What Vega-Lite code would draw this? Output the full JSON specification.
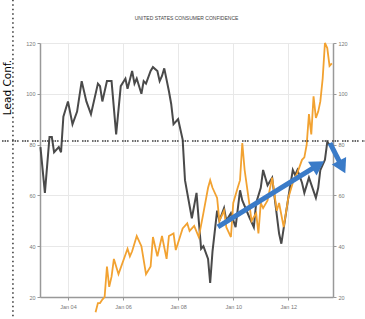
{
  "$schema": "https://vega.github.io/schema/vega-lite/v6.json",
  "width": 293,
  "height": 254,
  "autosize": "none",
  "padding": {"left": 40, "top": 43, "right": 32, "bottom": 22},
  "background": "white",
  "title": {"text": "UNITED STATES CONSUMER CONFIDENCE", "fontSize": 5, "font": "Liberation Sans", "fontWeight": "normal", "color": "#444", "anchor": "middle", "offset": -22},
  "config": {"view": {"stroke": null}, "font": "Liberation Sans"},
  "datasets": {
    "conf": [
      {"date": "2003-01-01", "value": 79}, {"date": "2003-03-01", "value": 61}, {"date": "2003-05-01", "value": 83}, {"date": "2003-06-01", "value": 83},
      {"date": "2003-07-01", "value": 77}, {"date": "2003-09-01", "value": 79}, {"date": "2003-10-01", "value": 77}, {"date": "2003-11-01", "value": 91},
      {"date": "2004-01-01", "value": 97}, {"date": "2004-03-01", "value": 88}, {"date": "2004-05-01", "value": 93}, {"date": "2004-07-01", "value": 105},
      {"date": "2004-09-01", "value": 97}, {"date": "2004-11-01", "value": 92}, {"date": "2005-02-01", "value": 104}, {"date": "2005-03-01", "value": 103},
      {"date": "2005-04-01", "value": 97}, {"date": "2005-06-01", "value": 105}, {"date": "2005-08-01", "value": 105}, {"date": "2005-10-01", "value": 84},
      {"date": "2005-12-01", "value": 103}, {"date": "2006-02-01", "value": 106}, {"date": "2006-03-01", "value": 102}, {"date": "2006-05-01", "value": 109},
      {"date": "2006-06-01", "value": 104}, {"date": "2006-07-01", "value": 106}, {"date": "2006-09-01", "value": 100}, {"date": "2006-10-01", "value": 105},
      {"date": "2006-11-01", "value": 104}, {"date": "2007-01-01", "value": 109}, {"date": "2007-02-01", "value": 110.5}, {"date": "2007-04-01", "value": 109},
      {"date": "2007-05-01", "value": 105}, {"date": "2007-06-01", "value": 107}, {"date": "2007-07-01", "value": 110}, {"date": "2007-09-01", "value": 101},
      {"date": "2007-10-01", "value": 96}, {"date": "2007-11-01", "value": 88}, {"date": "2008-01-01", "value": 90}, {"date": "2008-03-01", "value": 82},
      {"date": "2008-04-01", "value": 66}, {"date": "2008-05-01", "value": 61}, {"date": "2008-07-01", "value": 51}, {"date": "2008-09-01", "value": 61},
      {"date": "2008-10-01", "value": 50}, {"date": "2008-11-01", "value": 39}, {"date": "2008-12-01", "value": 40}, {"date": "2009-02-01", "value": 35},
      {"date": "2009-03-01", "value": 25.5}, {"date": "2009-04-01", "value": 38}, {"date": "2009-06-01", "value": 54}, {"date": "2009-07-01", "value": 50},
      {"date": "2009-09-01", "value": 55}, {"date": "2009-10-01", "value": 50}, {"date": "2009-12-01", "value": 53}, {"date": "2010-02-01", "value": 47.5},
      {"date": "2010-04-01", "value": 62}, {"date": "2010-05-01", "value": 58}, {"date": "2010-08-01", "value": 51.5}, {"date": "2010-10-01", "value": 47.5},
      {"date": "2010-11-01", "value": 57}, {"date": "2011-01-01", "value": 63}, {"date": "2011-02-01", "value": 70}, {"date": "2011-04-01", "value": 64},
      {"date": "2011-06-01", "value": 67}, {"date": "2011-09-01", "value": 45}, {"date": "2011-10-01", "value": 41}, {"date": "2012-01-01", "value": 59},
      {"date": "2012-03-01", "value": 70}, {"date": "2012-04-01", "value": 68}, {"date": "2012-05-01", "value": 70}, {"date": "2012-07-01", "value": 65},
      {"date": "2012-08-01", "value": 61}, {"date": "2012-10-01", "value": 67}, {"date": "2013-01-01", "value": 59}, {"date": "2013-02-01", "value": 63},
      {"date": "2013-03-01", "value": 70}, {"date": "2013-05-01", "value": 74}, {"date": "2013-06-01", "value": 81}, {"date": "2013-08-01", "value": 79}
    ],
    "lead": [
      {"date": "2005-01-01", "value": 14}, {"date": "2005-02-01", "value": 17.6}, {"date": "2005-03-01", "value": 17.6}, {"date": "2005-04-01", "value": 19},
      {"date": "2005-05-01", "value": 20}, {"date": "2005-06-01", "value": 32}, {"date": "2005-07-01", "value": 24}, {"date": "2005-08-01", "value": 28},
      {"date": "2005-09-01", "value": 35}, {"date": "2005-11-01", "value": 29}, {"date": "2006-03-01", "value": 39}, {"date": "2006-04-01", "value": 36},
      {"date": "2006-05-01", "value": 38}, {"date": "2006-07-01", "value": 44}, {"date": "2006-09-01", "value": 40}, {"date": "2006-11-01", "value": 29},
      {"date": "2007-01-01", "value": 32}, {"date": "2007-02-01", "value": 43.6}, {"date": "2007-04-01", "value": 36}, {"date": "2007-06-01", "value": 44},
      {"date": "2007-08-01", "value": 35}, {"date": "2007-09-01", "value": 44}, {"date": "2007-11-01", "value": 45}, {"date": "2007-12-01", "value": 38.5},
      {"date": "2008-03-01", "value": 47}, {"date": "2008-05-01", "value": 49}, {"date": "2008-06-01", "value": 46}, {"date": "2008-08-01", "value": 48},
      {"date": "2008-10-01", "value": 43.6}, {"date": "2008-12-01", "value": 53}, {"date": "2009-02-01", "value": 63}, {"date": "2009-03-01", "value": 66},
      {"date": "2009-04-01", "value": 63}, {"date": "2009-06-01", "value": 59}, {"date": "2009-07-01", "value": 50}, {"date": "2009-09-01", "value": 54},
      {"date": "2009-10-01", "value": 47.5}, {"date": "2009-12-01", "value": 43.6}, {"date": "2010-01-01", "value": 57}, {"date": "2010-03-01", "value": 63},
      {"date": "2010-04-01", "value": 66}, {"date": "2010-05-01", "value": 80.6}, {"date": "2010-06-01", "value": 70}, {"date": "2010-08-01", "value": 57},
      {"date": "2010-09-01", "value": 50}, {"date": "2010-11-01", "value": 53}, {"date": "2010-12-01", "value": 45}, {"date": "2011-01-01", "value": 57},
      {"date": "2011-02-01", "value": 55}, {"date": "2011-04-01", "value": 58}, {"date": "2011-06-01", "value": 67}, {"date": "2011-08-01", "value": 54},
      {"date": "2011-09-01", "value": 57}, {"date": "2011-11-01", "value": 47.5}, {"date": "2012-01-01", "value": 59}, {"date": "2012-03-01", "value": 65},
      {"date": "2012-04-01", "value": 67}, {"date": "2012-05-01", "value": 69}, {"date": "2012-07-01", "value": 74}, {"date": "2012-08-01", "value": 75},
      {"date": "2012-09-01", "value": 80}, {"date": "2012-10-01", "value": 92}, {"date": "2012-11-01", "value": 84}, {"date": "2012-12-01", "value": 99},
      {"date": "2013-01-01", "value": 90.5}, {"date": "2013-02-01", "value": 93}, {"date": "2013-03-01", "value": 97}, {"date": "2013-04-01", "value": 106},
      {"date": "2013-05-01", "value": 120}, {"date": "2013-06-01", "value": 118}, {"date": "2013-07-01", "value": 111}, {"date": "2013-08-01", "value": 112}
    ],
    "hline": [{"date": "2001-08-10", "date2": "2014-10-15", "value": 81.4}],
    "vline": [{"date": "2002-01-01", "value": 137, "value2": 11}],
    "arrow1": [{"date": "2009-06-12", "date2": "2012-12-21", "value": 47.6, "value2": 71.2}],
    "head1": [{"date": "2013-02-01", "value": 72}],
    "arrow2": [{"date": "2013-07-07", "date2": "2013-11-18", "value": 80.6, "value2": 72.8}],
    "head2": [{"date": "2013-12-15", "value": 71.2}]
  },
  "layer": [
    {
      "data": {"name": "conf"},
      "mark": {"type": "line", "color": "#4a4a4a", "strokeWidth": 2},
      "encoding": {
        "x": {"field": "date", "type": "temporal",
          "scale": {"domain": [1040860800000, 1376611200000]},
          "axis": {"title": null, "format": "%b %y",
            "values": [1072915200000, 1136073600000, 1199145600000, 1262304000000, 1325376000000],
            "labelFontSize": 5.5, "labelColor": "#777", "labelPadding": 4,
            "domain": true, "ticks": true, "labels": true,
            "domainColor": "#999", "domainWidth": 1.5, "tickColor": "#999", "tickSize": 3,
            "gridColor": "#e8e8e8", "grid": true}},
        "y": {"field": "value", "type": "quantitative",
          "scale": {"domain": [20, 120], "nice": false, "zero": false},
          "axis": {"title": "Lead Conf.", "values": [20, 40, 60, 80, 100, 120],
            "labelFontSize": 5.5, "labelColor": "#777", "labelPadding": 2,
            "domainColor": "#999", "domainWidth": 1.5, "tickColor": "#999", "tickSize": 3,
            "gridColor": "#e8e8e8", "grid": true,
            "titleAngle": 270, "titleX": -30, "titleY": 44, "titleAlign": "center", "titleBaseline": "alphabetic",
            "titleFont": "DejaVu Sans", "titleFontSize": 10.5, "titleColor": "#000", "titleFontWeight": "normal"}}
      }
    },
    {
      "data": {"name": "lead"},
      "mark": {"type": "line", "color": "#f2a231", "strokeWidth": 1.8},
      "encoding": {
        "x": {"field": "date", "type": "temporal"},
        "y": {"field": "value", "type": "quantitative",
          "scale": {"domain": [20, 120], "nice": false, "zero": false},
          "axis": {"orient": "right", "title": null, "values": [20, 40, 60, 80, 100, 120],
            "labelFontSize": 5.5, "labelColor": "#777", "labelPadding": 2,
            "domainColor": "#999", "domainWidth": 1.5, "tickColor": "#999", "tickSize": 3, "grid": false}}
      }
    },
    {
      "data": {"name": "hline"},
      "mark": {"type": "rule", "color": "#333", "strokeWidth": 1.5, "strokeDash": [1.5, 1, 1.5, 1, 1.5, 3.5]},
      "encoding": {
        "x": {"field": "date", "type": "temporal"},
        "x2": {"field": "date2"},
        "y": {"field": "value", "type": "quantitative", "scale": {"domain": [20, 120], "nice": false, "zero": false}, "axis": null}
      }
    },
    {
      "data": {"name": "vline"},
      "mark": {"type": "rule", "color": "#333", "strokeWidth": 1.5, "strokeDash": [1.5, 3]},
      "encoding": {
        "x": {"field": "date", "type": "temporal"},
        "y": {"field": "value", "type": "quantitative", "scale": {"domain": [20, 120], "nice": false, "zero": false}, "axis": null},
        "y2": {"field": "value2"}
      }
    },
    {
      "data": {"name": "arrow1"},
      "mark": {"type": "rule", "color": "#3a7bc8", "strokeWidth": 5},
      "encoding": {
        "x": {"field": "date", "type": "temporal"},
        "x2": {"field": "date2"},
        "y": {"field": "value", "type": "quantitative", "scale": {"domain": [20, 120], "nice": false, "zero": false}, "axis": null},
        "y2": {"field": "value2"}
      }
    },
    {
      "data": {"name": "head1"},
      "mark": {"type": "point", "shape": "triangle-up", "filled": true, "color": "#3a7bc8", "opacity": 1, "size": 260, "angle": 58},
      "encoding": {
        "x": {"field": "date", "type": "temporal"},
        "y": {"field": "value", "type": "quantitative", "scale": {"domain": [20, 120], "nice": false, "zero": false}, "axis": null}
      }
    },
    {
      "data": {"name": "arrow2"},
      "mark": {"type": "rule", "color": "#3a7bc8", "strokeWidth": 5},
      "encoding": {
        "x": {"field": "date", "type": "temporal"},
        "x2": {"field": "date2"},
        "y": {"field": "value", "type": "quantitative", "scale": {"domain": [20, 120], "nice": false, "zero": false}, "axis": null},
        "y2": {"field": "value2"}
      }
    },
    {
      "data": {"name": "head2"},
      "mark": {"type": "point", "shape": "triangle-up", "filled": true, "color": "#3a7bc8", "opacity": 1, "size": 260, "angle": 153},
      "encoding": {
        "x": {"field": "date", "type": "temporal"},
        "y": {"field": "value", "type": "quantitative", "scale": {"domain": [20, 120], "nice": false, "zero": false}, "axis": null}
      }
    }
  ],
  "resolve": {"scale": {"y": "independent"}}
}
